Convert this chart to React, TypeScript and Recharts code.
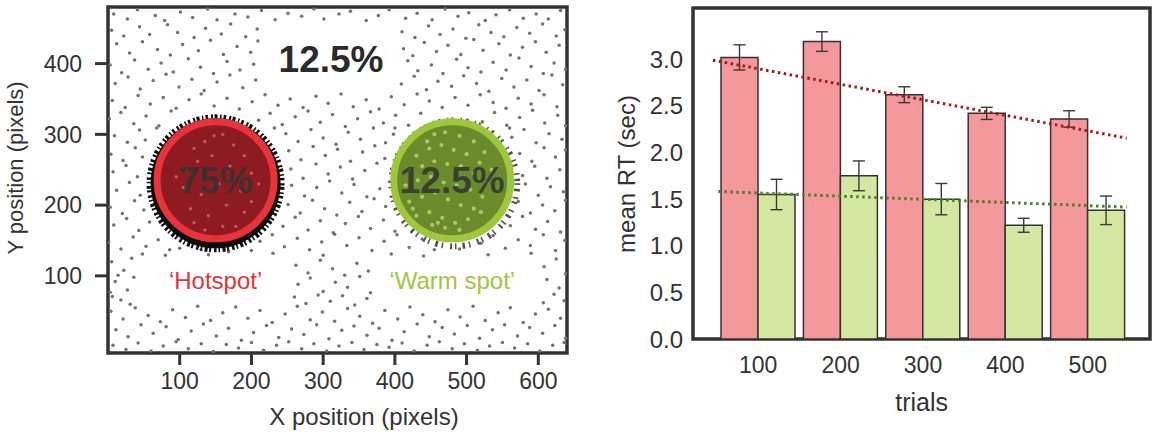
import React from 'react';
import {
  ScatterChart,
  Scatter,
  XAxis,
  YAxis,
  ReferenceArea,
  ComposedChart,
  Bar,
  ErrorBar,
  Line,
} from 'recharts';

const FONT = '"Liberation Sans", Arial, Helvetica, sans-serif';

// ---------------- Left panel data (pixel positions of fixation points) ----------------
const grayDots: [number, number][] = [
  [8,470],[27,463],[41,476],[66,468],[79,461],[101,473],[118,465],[139,477],[152,462],[177,470],[195,466],[214,475],[233,462],[251,471],[270,467],[287,477],[301,463],[322,470],[338,474],[360,461],[377,468],[392,476],[415,464],[431,471],[452,462],[470,477],[488,467],[503,472],[526,461],[541,469],[560,476],[579,464],[597,470],[614,463],[631,475],
  [5,447],[22,439],[44,452],[58,441],[83,455],[97,444],[120,437],[136,450],[158,442],[171,456],[192,438],[208,449],[410,445],[428,437],[447,453],[463,441],[481,449],[499,436],[517,455],[534,444],[552,438],[570,451],[588,443],[606,456],[625,439],[637,448],
  [12,428],[30,415],[48,431],[69,420],[87,412],[104,427],[126,418],[143,433],[161,413],[180,424],[199,416],[209,432],[412,421],[425,411],[441,430],[458,417],[474,426],[492,413],[510,434],[523,419],[545,428],[561,412],[578,423],[596,431],[611,416],[629,426],
  [3,398],[19,387],[37,405],[56,392],[74,401],[91,388],[112,407],[129,395],[147,386],[166,403],[184,391],[203,399],[418,404],[432,390],[451,398],[467,386],[486,406],[502,394],[520,388],[537,402],[555,391],[573,408],[590,396],[607,386],[622,401],[638,392],
  [10,372],[28,381],[45,364],[63,376],[81,385],[99,367],[117,378],[134,362],[152,374],[170,384],[188,366],[206,377],[409,371],[427,382],[444,363],[460,375],[479,368],[496,383],[514,372],[531,361],[549,379],[566,367],[584,377],[601,362],[619,384],[634,370],
  [6,348],[24,338],[42,355],[59,343],[77,352],[95,337],[113,349],[130,357],[148,340],[166,351],[183,336],[201,346],[219,356],[237,341],[254,350],[272,338],[290,354],[307,344],[325,357],[342,339],[360,349],[378,336],[395,353],[413,342],[431,357],[448,347],[466,338],[484,352],[502,341],[519,356],[537,345],[555,337],[572,351],[590,343],[608,356],[626,339],
  [2,322],[18,331],[36,315],[53,326],[71,312],[88,333],[210,320],[226,330],[243,314],[261,325],[279,333],[296,317],[313,328],[331,311],[348,322],[366,332],[384,316],[401,327],[419,313],[436,330],[522,318],[539,331],[556,313],[574,324],[592,334],[609,316],[627,327],[638,312],
  [9,298],[27,289],[44,306],[52,292],[68,309],[232,309],[248,301],[265,290],[283,307],[300,295],[318,286],[335,303],[352,293],[370,309],[387,288],[398,300],[400,309],[560,309],[563,296],[580,307],[597,288],[615,301],[633,293],
  [4,272],[21,263],[38,281],[48,268],[252,277],[269,264],[286,283],[303,270],[320,279],[338,262],[355,275],[372,284],[386,266],[574,273],[591,262],[608,281],[624,268],[638,278],
  [7,247],[25,256],[41,240],[255,251],[272,238],[290,258],[307,244],[324,254],[341,237],[358,249],[375,259],[578,242],[595,255],[612,238],[630,250],
  [12,221],[30,232],[45,214],[256,228],[274,213],[291,225],[309,234],[326,217],[343,229],[361,212],[379,223],[582,230],[600,214],[617,226],[635,219],
  [3,197],[20,188],[37,206],[50,193],[251,201],[268,189],[285,207],[302,195],[319,186],[337,204],[354,191],[371,209],[387,198],[572,205],[589,189],[606,200],[623,192],[638,207],
  [8,172],[26,181],[43,164],[58,176],[244,170],[261,183],[279,165],[296,178],[314,161],[331,174],[349,184],[366,167],[384,179],[400,163],[561,171],[578,184],[596,166],[613,177],[631,162],
  [1,147],[18,138],[35,155],[53,142],[70,151],[86,137],[100,139],[130,137],[168,134],[200,136],[212,149],[229,158],[246,141],[264,153],[281,137],[298,148],[316,159],[333,143],[350,154],[368,136],[385,149],[403,158],[420,140],[438,152],[455,137],[490,138],[520,146],[537,157],[554,139],[572,151],[589,143],[607,158],[624,136],[637,150],
  [48,131],[80,129],[140,130],[230,132],[300,129],[395,131],[440,128],[530,130],[590,132],
  [5,120],[14,101],[22,108],[33,125],[262,115],[279,104],[296,122],[313,110],[330,101],[347,118],[363,107],[608,113],[625,124],[638,103],
  [3,77],[10,92],[27,80],[36,98],[265,88],[282,97],[300,78],[317,91],[334,84],[351,99],[366,76],[612,95],[629,83],
  [6,71],[18,66],[31,60],[260,70],[276,61],[293,73],[310,64],[327,72],[344,59],[361,68],[607,62],[622,74],[636,65],
  [4,50],[21,39],[38,55],[56,44],[73,35],[90,52],[108,41],[125,57],[143,37],[160,48],[178,56],[195,40],[212,51],[229,34],[247,46],[264,57],[282,38],[299,49],[316,36],[334,54],[351,43],[369,33],[386,51],[404,39],[421,56],[439,45],[456,35],[474,52],[491,42],[509,57],[526,37],[544,48],[561,55],[579,34],[596,46],[614,53],[631,40],
  [11,24],[28,14],[46,31],[63,19],[81,28],[98,10],[116,22],[133,32],[151,15],[168,26],[186,9],[203,20],[221,30],[238,13],[256,25],[273,17],[291,31],[308,11],[326,23],[343,29],[361,16],[378,26],[396,9],[413,21],[431,32],[448,14],[466,27],[483,18],[501,30],[518,12],[536,24],[553,31],[571,15],[588,27],[606,19],[623,30],[638,12],
  [7,2],[25,-4],[42,5],[60,-6],[77,1],[95,7],[112,-3],[130,4],[147,-7],[165,3],[182,-2],[200,6],[217,-5],[235,2],[252,7],[270,-3],[287,4],[305,-6],[322,1],[340,6],[357,-4],[375,3],[392,-1],[410,5],[427,-6],[445,2],[462,7],[480,-3],[497,4],[515,-5],[532,1],[550,6],[567,-2],[585,4],[602,-6],[620,2],[636,6],
];

const hotInnerDots: [number, number][] = [
  [120,280],[135,290],[160,300],[175,285],[190,270],[110,250],[125,262],[145,270],[170,255],[200,245],
  [105,225],[130,215],[155,230],[185,220],[210,230],[115,195],[140,185],[165,200],[190,190],[135,165],
  [160,170],[178,170],[95,240],[200,205],[148,298],[120,175],
];

const warmInnerDots: [number, number][] = [
  [445,290],[455,300],[470,303],[490,298],[510,290],[525,275],[430,270],[448,280],[465,285],[482,278],
  [500,272],[518,260],[535,250],[420,250],[438,255],[455,262],[473,258],[492,255],[510,245],[528,232],
  [415,228],[432,235],[450,240],[468,232],[486,228],[505,222],[522,212],[420,205],[438,212],[456,218],
  [474,208],[492,200],[510,195],[430,185],[448,190],[466,182],[484,175],[502,180],[452,172],[470,168],
  [490,165],[460,175],[520,190],[425,195],
];

const spotKind = ['hot', 'warm'];
const spotX = [150, 480];
const spotY = [235, 235];

const noteText = ['12.5%', '75%', '12.5%', '\u2018Hotspot\u2019', '\u2018Warm spot\u2019'];
const noteKind = ['top', 'inner', 'inner', 'hot', 'warm'];
const noteX = [311, 150, 480, 150, 480];
const noteY = [406, 235, 235, 93.5, 93.5];

const xPixelTicks = [100, 200, 300, 400, 500, 600];
const yPixelTicks = [100, 200, 300, 400];

// ---------------- Right panel data ----------------
const trials = ['100', '200', '300', '400', '500'];
const hotspotRT = [3.02, 3.19, 2.62, 2.42, 2.36];
const hotspotErr = [0.135, 0.105, 0.085, 0.065, 0.088];
const warmRT = [1.55, 1.75, 1.5, 1.22, 1.38];
const warmErr = [0.163, 0.16, 0.168, 0.075, 0.153];
const rtTicks = [0, 0.5, 1, 1.5, 2, 2.5, 3];

// trend-line endpoints, on the bar index axis (0 = first bar group)
const hotTrendX = [-0.553, 4.465];
const hotTrendY = [2.99, 2.154];
const warmTrendX = [-0.488, 4.465];
const warmTrendY = [1.582, 1.415];

// ---------------- derived tables ----------------
const grayData = grayDots.map(([x, y]) => ({ x, y }));
const hotInnerData = hotInnerDots.map(([x, y]) => ({ x, y }));
const warmInnerData = warmInnerDots.map(([x, y]) => ({ x, y }));
const spotData = spotKind.map((kind, i) => ({ x: spotX[i], y: spotY[i], kind }));
const noteData = noteText.map((text, i) => ({ x: noteX[i], y: noteY[i], text, kind: noteKind[i] }));

const barData = trials.map((trial, i) => ({
  trial,
  hot: hotspotRT[i],
  hotErr: hotspotErr[i],
  warm: warmRT[i],
  warmErr: warmErr[i],
}));
const hotTrend = hotTrendX.map((t, i) => ({ t, v: hotTrendY[i] }));
const warmTrend = warmTrendX.map((t, i) => ({ t, v: warmTrendY[i] }));

// ---------------- shapes ----------------
const GrayDot = (p: any) => <circle cx={p.cx} cy={p.cy} r={1.75} fill="#727272" />;
const HotInner = (p: any) => <circle cx={p.cx} cy={p.cy} r={1.7} fill="#C0585E" />;
const WarmInner = (p: any) => <circle cx={p.cx} cy={p.cy} r={2.1} fill="#A7C862" />;

const SpotShape = (p: any) => {
  const { cx, cy, payload } = p;
  if (payload.kind === 'hot') {
    return (
      <g>
        <circle cx={cx} cy={cy + 3} r={65} fill="#0c0c0c" />
        <circle
          cx={cx}
          cy={cy + 3}
          r={66}
          fill="none"
          stroke="#0c0c0c"
          strokeWidth={6}
          strokeDasharray="2 1.5 3 2.5 1.5 2 2.5 3"
        />
        <circle cx={cx} cy={cy} r={58.5} fill="#8D1B21" stroke="#E8333B" strokeWidth={7} />
      </g>
    );
  }
  return (
    <g>
      <circle
        cx={cx + 2}
        cy={cy + 3}
        r={63}
        fill="none"
        stroke="#151515"
        strokeWidth={6}
        strokeDasharray="1.5 4 2.5 6 1.5 3 2 7"
        opacity={0.75}
      />
      <circle cx={cx} cy={cy} r={58.5} fill="#6B8A2C" stroke="#9DC83E" strokeWidth={7} />
    </g>
  );
};

const NoteShape = (p: any) => {
  const { cx, cy, payload } = p;
  const kind = payload.kind;
  const big = kind === 'top' || kind === 'inner';
  const fill = kind === 'hot' ? '#E0343C' : kind === 'warm' ? '#9DC83F' : kind === 'top' ? '#2a2a2a' : '#333';
  return (
    <text
      x={cx}
      y={cy}
      textAnchor="middle"
      dominantBaseline="central"
      fontFamily={FONT}
      fontWeight={big ? 700 : 400}
      fontSize={big ? 37 : 24}
      fill={fill}
      opacity={kind === 'inner' ? 0.85 : 1}
    >
      {payload.text}
    </text>
  );
};

const axisTitle = (text: string, x: number, y: number, size: number, rotate = false) => () =>
  (
    <text
      x={x}
      y={y}
      textAnchor="middle"
      dominantBaseline="central"
      fontFamily={FONT}
      fontSize={size}
      fill="#333"
      transform={rotate ? `rotate(-90, ${x}, ${y})` : undefined}
    >
      {text}
    </text>
  );

const tickStyle = { fontSize: 23, fill: '#333', fontFamily: FONT };

function LeftPanel() {
  return (
    <ScatterChart width={580} height={436} margin={{ top: 7, right: 13, bottom: 0, left: 0 }}>
      <XAxis
        type="number"
        dataKey="x"
        domain={[0, 640]}
        allowDataOverflow
        ticks={xPixelTicks}
        height={83}
        axisLine={false}
        tickLine={{ stroke: '#333', strokeWidth: 3 }}
        tickSize={12}
        tickMargin={8}
        tick={tickStyle}
        label={axisTitle('X position (pixels)', 364, 416, 24)}
      />
      <YAxis
        type="number"
        dataKey="y"
        domain={[-9, 480]}
        allowDataOverflow
        ticks={yPixelTicks}
        width={108}
        axisLine={false}
        tickLine={{ stroke: '#333', strokeWidth: 3 }}
        tickSize={13}
        tickMargin={13}
        tick={tickStyle}
        label={axisTitle('Y position (pixels)', 15, 168, 22, true)}
      />
      <Scatter data={grayData} shape={GrayDot} isAnimationActive={false} />
      <Scatter data={spotData} shape={SpotShape} isAnimationActive={false} />
      <Scatter data={hotInnerData} shape={HotInner} isAnimationActive={false} />
      <Scatter data={warmInnerData} shape={WarmInner} isAnimationActive={false} />
      <Scatter data={noteData} shape={NoteShape} isAnimationActive={false} />
      <ReferenceArea x1={0} x2={640} y1={-9} y2={480} fill="none" stroke="#333" strokeWidth={3.5} ifOverflow="visible" />
    </ScatterChart>
  );
}

function RightPanel() {
  return (
    <ComposedChart
      width={578}
      height={436}
      data={barData}
      margin={{ top: 8, right: 8, bottom: 0, left: 0 }}
      barCategoryGap={4}
      barGap={0}
    >
      <XAxis
        xAxisId="cat"
        dataKey="trial"
        type="category"
        height={97}
        padding={{ left: 24, right: 21 }}
        axisLine={false}
        tickLine={false}
        tickSize={0}
        tickMargin={18}
        tick={tickStyle}
        label={axisTitle('trials', 341.7, 402, 25)}
      />
      <XAxis
        xAxisId="trend"
        dataKey="t"
        type="number"
        domain={[-0.795, 4.748]}
        allowDataOverflow
        hide
        height={0}
      />
      <YAxis
        domain={[0, 3.55]}
        allowDataOverflow
        ticks={rtTicks}
        width={113}
        axisLine={false}
        tickLine={false}
        tickSize={0}
        tickMargin={10}
        tickFormatter={(v: number) => v.toFixed(1)}
        tick={{ fontSize: 24, fill: '#333', fontFamily: FONT }}
        label={axisTitle('mean RT (sec)', 46.7, 174, 24, true)}
      />
      <Bar xAxisId="cat" dataKey="hot" fill="#F4989B" stroke="#333" strokeWidth={1.5} isAnimationActive={false}>
        <ErrorBar dataKey="hotErr" width={6} stroke="#3a3a3a" strokeWidth={1.4} />
      </Bar>
      <Bar xAxisId="cat" dataKey="warm" fill="#D5E8A1" stroke="#333" strokeWidth={1.5} isAnimationActive={false}>
        <ErrorBar dataKey="warmErr" width={6} stroke="#3a3a3a" strokeWidth={1.4} />
      </Bar>
      <Line
        xAxisId="trend"
        data={hotTrend}
        dataKey="v"
        type="linear"
        stroke="#9B1C22"
        strokeWidth={3}
        strokeDasharray="2.5 3.5"
        dot={false}
        activeDot={false}
        isAnimationActive={false}
      />
      <Line
        xAxisId="trend"
        data={warmTrend}
        dataKey="v"
        type="linear"
        stroke="#4E7D2E"
        strokeWidth={3}
        strokeDasharray="2.5 3.5"
        dot={false}
        activeDot={false}
        isAnimationActive={false}
      />
      <ReferenceArea
        xAxisId="trend"
        x1={-0.795}
        x2={4.748}
        y1={0}
        y2={3.55}
        fill="none"
        stroke="#333"
        strokeWidth={3.5}
        ifOverflow="visible"
      />
    </ComposedChart>
  );
}

export default function App() {
  return (
    <div style={{ position: 'absolute', left: 0, top: 0, width: 1158, height: 436, background: '#fff' }}>
      <div style={{ position: 'absolute', left: 0, top: 0 }}>
        <LeftPanel />
      </div>
      <div style={{ position: 'absolute', left: 580, top: 0 }}>
        <RightPanel />
      </div>
    </div>
  );
}
